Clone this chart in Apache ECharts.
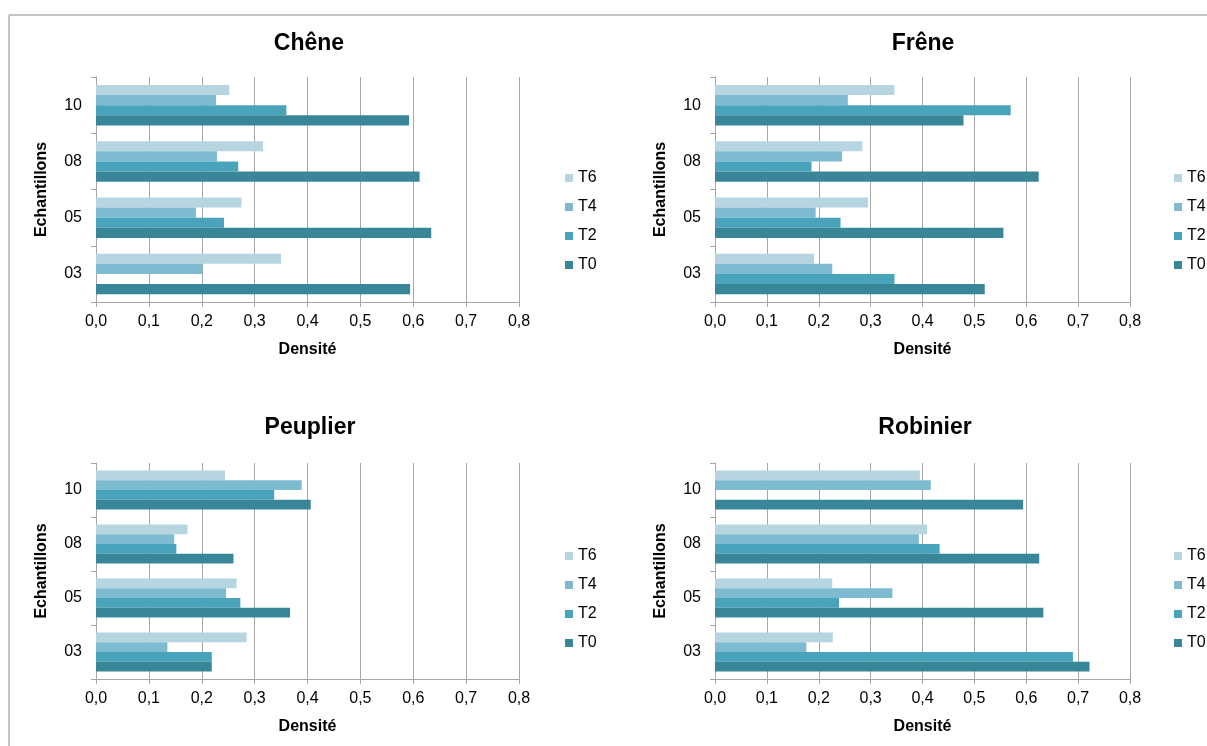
<!DOCTYPE html>
<html>
<head>
<meta charset="utf-8">
<script src="https://cdn.jsdelivr.net/npm/echarts@6/dist/echarts.min.js"></script>
<style>html,body{margin:0;padding:0;background:#fff}#c{width:1207px;height:746px}</style>
</head>
<body>
<div id="c"></div>
<script>
// Data
const categories = ['03', '05', '08', '10'];
const seriesNames = ['T6', 'T4', 'T2', 'T0'];
const legendOrder = ['T6', 'T4', 'T2', 'T0'];
const xTicks = [0, 0.1, 0.2, 0.3, 0.4, 0.5, 0.6, 0.7, 0.8];
const panelTitles = ['Chêne', 'Frêne', 'Peuplier', 'Robinier'];

// values per category 03, 05, 08, 10
const cheneT0 = [0.594, 0.634, 0.612, 0.592];
const cheneT2 = [null, 0.242, 0.269, 0.360];
const cheneT4 = [0.201, 0.189, 0.229, 0.227];
const cheneT6 = [0.350, 0.275, 0.316, 0.252];

const freneT0 = [0.520, 0.556, 0.624, 0.479];
const freneT2 = [0.346, 0.242, 0.186, 0.570];
const freneT4 = [0.226, 0.194, 0.245, 0.256];
const freneT6 = [0.191, 0.295, 0.284, 0.346];

const peuplierT0 = [0.219, 0.367, 0.260, 0.406];
const peuplierT2 = [0.219, 0.273, 0.152, 0.337];
const peuplierT4 = [0.135, 0.246, 0.148, 0.389];
const peuplierT6 = [0.285, 0.266, 0.173, 0.244];

const robinierT0 = [0.722, 0.633, 0.625, 0.594];
const robinierT2 = [0.690, 0.239, 0.433, null];
const robinierT4 = [0.176, 0.342, 0.393, 0.416];
const robinierT6 = [0.227, 0.226, 0.409, 0.395];

// series order within each panel: T6, T4, T2, T0 (top to bottom within a group)
const panelData = [
  [cheneT6, cheneT4, cheneT2, cheneT0],
  [freneT6, freneT4, freneT2, freneT0],
  [peuplierT6, peuplierT4, peuplierT2, peuplierT0],
  [robinierT6, robinierT4, robinierT2, robinierT0]
];

// Styling / layout
const colors = { T0: '#3A8699', T2: '#49A3BB', T4: '#7EBBD0', T6: '#B7D5E0' };
const FONT = 'Liberation Sans';
const grids = [
  { left: 96, top: 77, width: 423, height: 225 },
  { left: 715, top: 77, width: 415, height: 225 },
  { left: 96, top: 463, width: 423, height: 216 },
  { left: 715, top: 463, width: 415, height: 216 }
];
const titlePos = [[309, 44], [923, 44], [310, 428], [925, 428]];
const legendPos = [[560, 165], [1169, 165], [560, 543], [1169, 543]];
const gray = '#A6A6A6';

const option = {
  animation: false,
  backgroundColor: '#fff',
  grid: grids.map(g => Object.assign({ containLabel: false }, g)),
  xAxis: grids.map((g, i) => ({
    type: 'value', gridIndex: i, min: 0, max: 0.8, interval: 0.1,
    name: 'Densité', nameLocation: 'middle', nameGap: 40,
    nameTextStyle: { fontFamily: FONT, fontWeight: 'bold', fontSize: 16, color: '#000' },
    axisLine: { show: true, lineStyle: { color: gray, width: 1 } },
    axisTick: { show: true, length: 5, lineStyle: { color: gray } },
    axisLabel: { fontFamily: FONT, fontSize: 16, color: '#000', margin: 12,
      formatter: v => v.toFixed(1).replace('.', ',') },
    splitLine: { show: true, lineStyle: { color: gray, width: 1 } }
  })),
  yAxis: grids.map((g, i) => ({
    type: 'category', gridIndex: i, data: categories,
    name: 'Echantillons', nameLocation: 'middle', nameGap: 46,
    nameTextStyle: { fontFamily: FONT, fontWeight: 'bold', fontSize: 16, color: '#000' },
    axisLine: { show: true, lineStyle: { color: gray, width: 1 } },
    axisTick: { show: true, length: 5, lineStyle: { color: gray } },
    axisLabel: { fontFamily: FONT, fontSize: 16, color: '#000', margin: 14 },
    splitLine: { show: false }
  })),
  legend: grids.map((g, i) => ({
    orient: 'vertical', left: legendPos[i][0], top: legendPos[i][1],
    data: legendOrder, icon: 'rect', itemWidth: 8, itemHeight: 8, itemGap: 13,
    textStyle: { fontFamily: FONT, fontSize: 16, color: '#000' },
    selectedMode: false
  })),
  series: [],
  graphic: [
    { type: 'line', shape: { x1: 9, y1: 15, x2: 1207, y2: 15 }, style: { stroke: '#C4C4C4', lineWidth: 2 }, silent: true },
    { type: 'line', shape: { x1: 9, y1: 15, x2: 9, y2: 746 }, style: { stroke: '#C4C4C4', lineWidth: 2 }, silent: true }
  ].concat(panelTitles.map((t, i) => ({
    type: 'text', x: titlePos[i][0], y: titlePos[i][1], silent: true,
    style: { text: t, font: 'bold 23px "' + FONT + '"', fill: '#000', textAlign: 'center', textVerticalAlign: 'middle' }
  })))
};

panelData.forEach((pd, i) => {
  pd.forEach((vals, s) => {
    option.series.push({
      type: 'bar', name: seriesNames[s], xAxisIndex: i, yAxisIndex: i,
      data: vals, barGap: '0%', barCategoryGap: '28%',
      itemStyle: { color: colors[seriesNames[s]] }
    });
  });
});

const chart = echarts.init(document.getElementById('c'), null, { renderer: 'canvas' });
chart.setOption(option);
</script>
</body>
</html>
